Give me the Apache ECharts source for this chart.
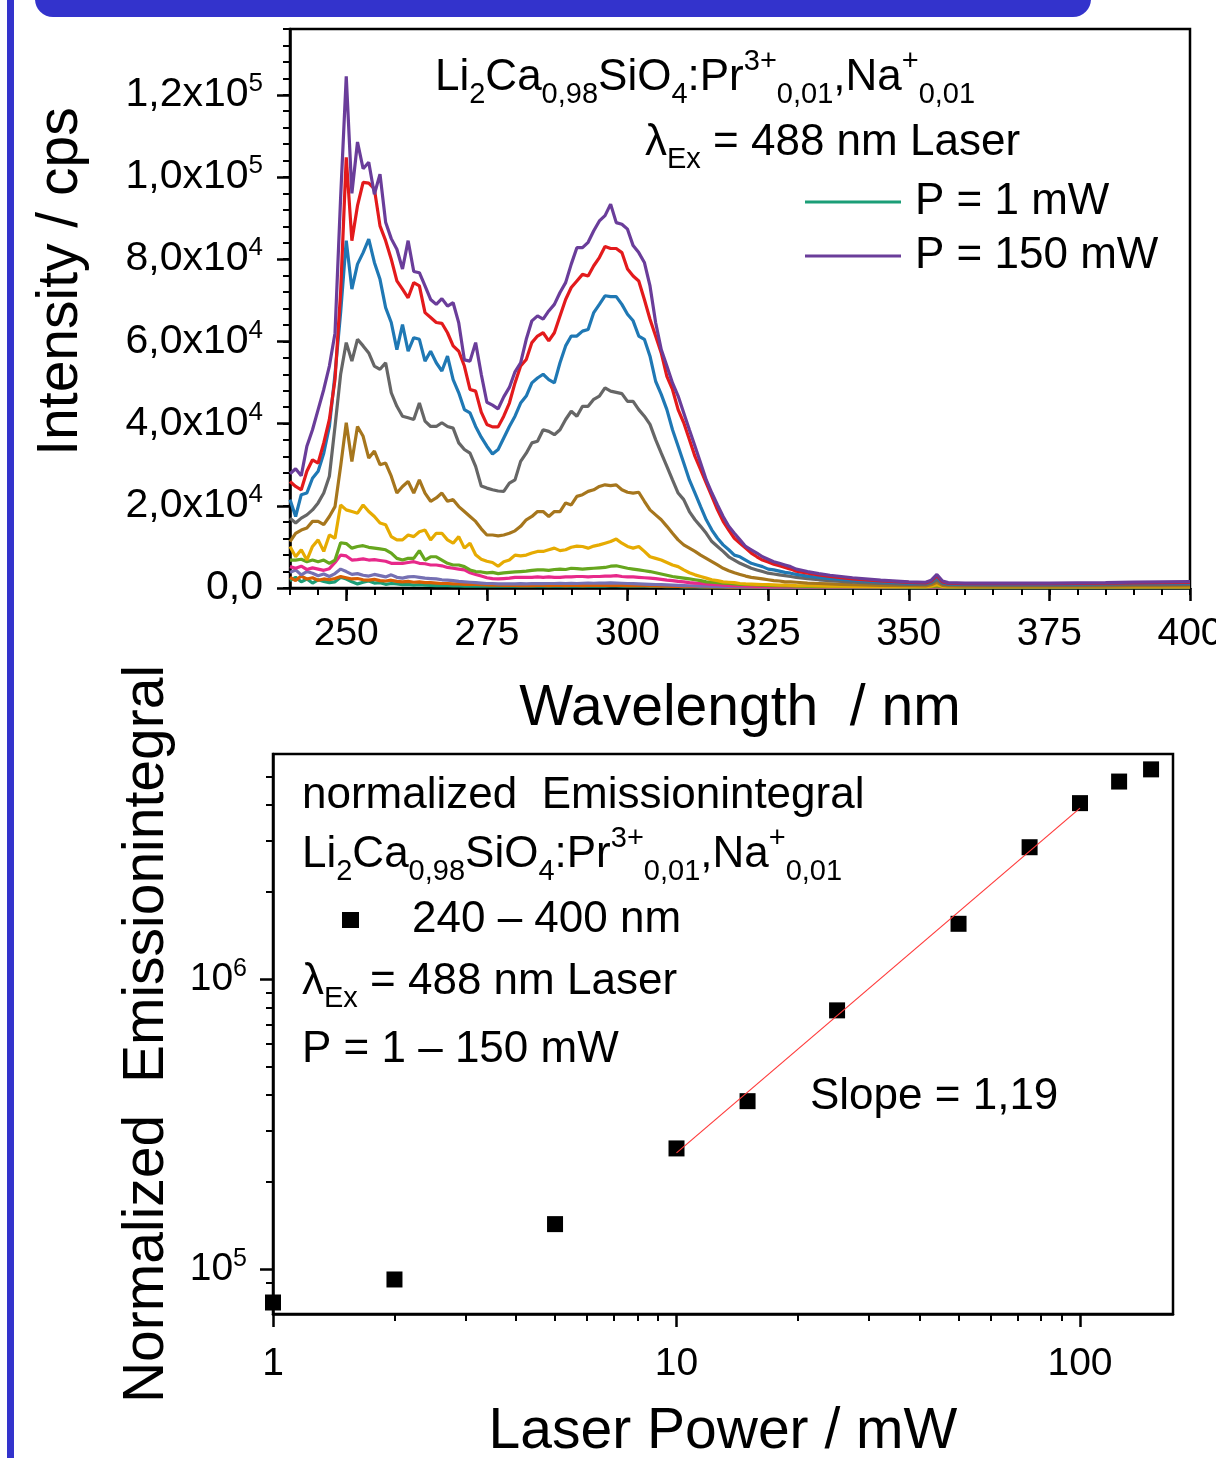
<!DOCTYPE html>
<html>
<head>
<meta charset="utf-8">
<script src="https://cdn.jsdelivr.net/npm/echarts@6/dist/echarts.min.js"></script>
<style>
  html, body { margin: 0; padding: 0; background: #fff; }
  #chart { width: 1216px; height: 1458px; }
</style>
</head>
<body>
<div id="chart"></div>
<script>
// ---- Emission spectra, Li2Ca0.98SiO4:Pr3+,Na+ under 488 nm laser excitation ----
// wavelength grid (nm)
const wavelength = [
  240,241,242,243,244,245,246,247,248,249,
  250,251,252,253,254,255,256,257,258,259,
  260,261,262,263,264,265,266,267,268,269,
  270,271,272,273,274,275,276,277,278,279,
  280,281,282,283,284,285,286,287,288,289,
  290,291,292,293,294,295,296,297,298,299,
  300,301,302,303,304,305,306,307,308,309,
  310,311,312,313,314,315,316,317,318,319,
  320,321,322,323,324,325,326,327,328,329,
  330,
  332,334,336,338,340,345,350,353,354,355,356,357,360,365,370,375,380,385,390,395,400
];

// intensity (cps) for each laser power
const I_1mW = [
  1800,2600,1500,2200,1200,2000,1600,1300,1500,2600,
  2200,1500,1000,1400,1700,1200,1300,900,1100,1000,
  800,900,700,800,700,650,600,600,550,500,
  500,480,460,450,450,440,430,430,420,420,
  420,420,430,430,440,440,450,450,450,460,
  460,460,470,470,480,480,480,490,490,480,
  470,460,450,430,410,390,370,350,330,310,
  290,270,250,230,210,200,190,180,170,160,
  150,140,130,120,120,110,110,100,100,100,
  100,
  100,100,100,100,100,100,100,100,130,200,110,100,100,100,100,100,100,100,100,100,100
];
const I_2mW = [
  2600,1800,2900,2200,2500,1900,2200,2000,2300,2800,
  2500,2200,2300,2000,1900,2100,1800,1700,1900,1600,
  1500,1600,1400,1500,1300,1300,1200,1100,1100,1000,
  1000,900,900,850,800,750,700,700,650,650,
  650,600,650,600,650,650,600,650,650,600,
  650,650,600,650,650,650,700,650,650,650,
  600,600,550,550,500,500,450,450,400,400,
  350,350,300,300,280,260,250,240,230,220,
  210,200,190,180,170,160,160,150,150,150,
  150,
  150,140,140,130,130,120,120,120,150,250,130,120,120,120,120,120,120,120,120,120,120
];
const I_5mW = [
  3800,4400,3200,4000,3600,3000,3400,2800,3500,4600,
  4000,3300,3500,3100,2900,3300,3000,2700,3200,2600,
  2400,2700,2800,2600,2400,2300,2200,2000,1900,1800,
  1600,1500,1400,1300,1200,1100,1100,1000,1000,1000,
  1000,1050,1000,1050,1100,1050,1100,1100,1150,1100,
  1150,1100,1150,1200,1150,1200,1200,1250,1200,1150,
  1100,1050,1000,950,900,850,800,750,700,650,
  600,550,500,450,420,400,380,350,330,300,
  280,260,250,240,230,220,210,200,200,200,
  200,
  200,200,180,180,170,160,150,150,200,300,170,150,150,150,150,150,150,150,150,150,150
];
const I_10mW = [
  5200,4800,5300,4500,4900,4600,4300,4700,6200,8000,
  7800,6800,6900,7100,6800,6900,6700,6500,6000,6000,
  6000,6200,6400,6000,5900,5600,5600,5400,5000,4800,
  4600,4400,3700,3300,2900,2500,2300,2200,2300,2400,
  2600,2600,2600,2600,2700,2600,2700,2600,2600,2700,
  2700,2800,2800,2700,2800,2800,2900,2900,3000,2800,
  2700,2700,2600,2500,2400,2300,2100,1900,1800,1600,
  1500,1300,1200,1100,1000,900,800,700,650,600,
  550,500,450,400,400,350,350,300,300,300,
  300,
  300,250,250,250,200,200,200,200,250,400,200,200,200,150,150,150,150,150,150,150,150
];
const I_15mW = [
  6800,6800,7000,6400,6800,6400,6800,6000,6800,11000,
  10800,9700,10100,10300,9900,9700,9500,9300,8500,7200,
  6800,7200,7200,9100,6800,7600,7600,6800,6000,5600,
  5600,5200,4400,4000,3900,3700,3800,3500,3700,3800,
  3900,4000,4100,4300,4400,4400,4300,4500,4600,4500,
  4800,4700,4600,4700,4800,4900,5000,5300,5400,5100,
  4800,4600,4400,4200,4000,3700,3400,3100,2800,2600,
  2400,2200,2000,1800,1500,1400,1300,1200,1100,1000,
  900,850,800,750,700,650,600,550,500,500,
  450,
  400,350,300,300,250,250,200,200,300,500,250,200,200,200,200,200,200,200,200,200,200
];
const I_25mW = [
  10100,7600,9300,6800,10100,11700,8900,12900,12100,20200,
  19000,18600,18200,20200,18600,17400,15800,15400,12500,11700,
  11700,12900,12500,13700,14100,11700,13300,13300,11700,10900,
  12500,9700,10900,8100,7000,6500,6200,5300,6400,6800,
  8000,7800,8000,8500,8900,8900,9300,9700,9100,9300,
  9900,10200,10100,9700,10200,10500,10900,11300,11900,10900,
  10100,9700,10100,8900,7600,7200,6800,6200,5600,5200,
  4400,3700,3200,2800,2400,2000,1800,1500,1400,1300,
  1100,1000,950,900,850,800,750,700,700,650,
  600,
  550,500,450,450,400,350,300,300,450,800,400,300,300,300,300,300,300,300,300,300,300
];
const I_50mW = [
  11300,13300,14100,14600,16200,16200,15400,17400,19800,29600,
  40200,30800,39300,36900,31600,33300,30000,30400,27200,23100,
  24700,25900,23100,26300,23100,21100,21900,23100,21100,21500,
  19800,18600,17400,16200,14400,12900,12900,12700,12900,13300,
  13900,15000,16600,17400,18600,18600,17400,18600,18600,20700,
  20200,22300,22700,23500,23900,24700,25100,24900,25100,23900,
  23300,23100,23300,21100,19000,17800,16600,15000,13300,11700,
  10500,9700,8900,8000,7200,6400,5600,4800,4200,3700,
  3300,2900,2600,2400,2200,2000,1800,1700,1500,1500,
  1400,
  1200,1100,1000,900,800,650,550,500,800,1400,650,500,450,450,450,450,450,450,500,500,500
];
const I_75mW = [
  17000,15800,17000,17800,19000,20700,23100,27200,39300,52000,
  59700,55200,60500,58900,57200,54000,53200,54800,47500,44200,
  41800,41400,41000,45000,40600,39300,39300,40200,39300,38900,
  35300,33700,32800,29600,24800,24300,23900,23600,23500,25500,
  26300,30800,32800,35300,35700,38500,38100,37300,38500,41000,
  43000,41800,44200,44200,45900,46700,48700,47900,47600,47300,
  45400,45400,43400,41800,39800,36100,32800,29600,26300,23100,
  21500,18600,16600,15000,13300,11300,10100,8900,7600,6800,
  6000,5400,4800,4400,4000,3600,3400,3200,3000,2800,
  2600,
  2300,2000,1800,1600,1400,1100,900,850,1200,2000,1000,800,750,700,700,700,700,750,800,800,850
];
const I_100mW = [
  21500,17400,22700,23100,26700,28400,32800,39300,52000,67000,
  84500,72700,78800,81600,84900,79200,75100,68200,64600,58000,
  64100,57600,60900,60500,55200,57600,54800,52800,56400,50700,
  47500,43400,42600,39300,36700,34500,32600,33700,36500,39300,
  41800,45000,46700,49900,51100,52000,50700,49900,54800,58900,
  61300,61300,62500,62900,67000,69000,71100,70900,70900,69000,
  66600,65000,61300,60500,56400,50300,47100,43400,38500,34500,
  30400,26300,23100,19800,16600,14100,12100,10500,9300,8000,
  7600,6800,6000,5600,5200,4600,4400,4100,3800,3600,
  3300,
  2900,2600,2300,2100,1900,1500,1200,1100,1500,2600,1300,1000,950,950,950,950,1000,1050,1100,1150,1200
];
const I_125mW = [
  25900,24700,23900,28400,31200,30400,35300,41000,50700,72000,
  104800,84500,93000,98700,98500,97100,88100,84500,80000,74700,
  72700,70600,74300,73500,67000,65800,64600,64400,62100,58900,
  57600,54000,48300,47900,42800,39800,39200,39200,41800,45000,
  49900,54000,55600,59700,61300,62100,60100,62100,66200,70200,
  73100,74700,76300,75900,78400,80400,83100,82600,82600,81600,
  77600,75900,74700,70200,65400,61300,57200,51500,48300,43400,
  40200,36100,32000,28800,25500,22300,19000,16200,14100,12100,
  10900,9700,8500,7600,6800,6300,5800,5400,5000,4600,
  4100,
  3600,3200,2800,2500,2200,1700,1350,1250,1700,3000,1500,1150,1050,1050,1050,1050,1100,1150,1250,1300,1350
];
const I_150mW = [
  27800,29000,27300,34500,38500,43400,48300,54000,62000,95000,
  124500,96000,108500,102000,103600,95800,100700,89000,85000,82400,
  77600,84500,77000,76700,73500,70200,69000,70400,68600,69400,
  64500,55500,55200,59700,52000,45200,44500,43600,46500,48800,
  52600,54800,60500,65000,66200,65400,67400,69000,71900,74300,
  78800,82800,82800,84100,86900,89300,90600,93400,88900,88500,
  87300,83300,81600,79200,73500,64600,58000,54000,49900,46700,
  42600,38500,34500,30400,26300,23100,20200,17400,15000,13300,
  11700,10100,9300,8500,7600,7000,6400,6000,5600,5200,
  4600,
  4000,3500,3100,2800,2500,1900,1500,1400,1900,3300,1700,1300,1200,1200,1200,1200,1250,1300,1450,1500,1550
];

const spectraNames = ['P = 1 mW','P = 2 mW','P = 5 mW','P = 10 mW','P = 15 mW','P = 25 mW',
                      'P = 50 mW','P = 75 mW','P = 100 mW','P = 125 mW','P = 150 mW'];
const spectra = [I_1mW, I_2mW, I_5mW, I_10mW, I_15mW, I_25mW, I_50mW, I_75mW, I_100mW, I_125mW, I_150mW];
const spectraColors = ['#1b9e77','#d95f02','#7570b3','#e7298a','#66a61e','#e6ab02',
                       '#a6761d','#666666','#1f78b4','#e31a1c','#6a3d9a'];

// ---- Power dependence of the integrated emission (240 - 400 nm) ----
const laserPower = [1, 2, 5, 10, 15, 25, 50, 75, 100, 125, 150];
const emissionIntegral = [76700, 92100, 143000, 261000, 380000, 782000, 1556000, 2860000, 4060000, 4820000, 5310000];
// linear fit in log-log space between 10 and 100 mW
const fitSlope = 1.19;
const fitRange = [10, 100];
const fitAtStart = 252000;

// ---- tick positions ----
const specXTicks = [250, 275, 300, 325, 350, 375, 400];
const specYTicks = [0, 20000, 40000, 60000, 80000, 100000, 120000];
const powXTicks = [1, 10, 100];
const powXMinor = [2,3,4,5,6,7,8,9,20,30,40,50,60,70,80,90];
const powYTicks = [100000, 1000000];
const powYMinor = [80000,90000,200000,300000,400000,500000,600000,700000,800000,900000,
                   2000000,3000000,4000000,5000000];

const FONT = '"Liberation Sans", Arial, Helvetica, sans-serif';
const BLACK = '#000';

function sciLabel(v) {
  if (v === 0) return '{m|0,0}';
  const e = Math.floor(Math.log10(v) + 1e-9);
  const m = (v / Math.pow(10, e)).toFixed(1).replace('.', ',');
  return '{m|' + m + 'x10}{s|' + e + '}';
}
function powLabel(v) {
  const e = Math.round(Math.log10(v));
  return '{m|10}{s|' + e + '}';
}
function tickRich(fs, sfs) {
  return {
    m: { fontSize: fs, lineHeight: fs + 7, fontFamily: FONT, color: BLACK },
    s: { fontSize: sfs, lineHeight: sfs, verticalAlign: 'top', fontFamily: FONT, color: BLACK }
  };
}

// rich styles for chemical formula / subscripts in annotations
function annoRich(fs, sfs) {
  const lh = Math.round(fs * 1.4);
  return {
    n: { fontSize: fs, lineHeight: lh, fontFamily: FONT, fill: BLACK, color: BLACK },
    b: { fontSize: sfs, lineHeight: sfs, verticalAlign: 'bottom', fontFamily: FONT, fill: BLACK, color: BLACK },
    p: { fontSize: sfs, lineHeight: sfs, verticalAlign: 'top', fontFamily: FONT, fill: BLACK, color: BLACK }
  };
}
function annoText(x, y, text, fs, sfs) {
  return {
    type: 'text', x: x, y: y, z: 50,
    style: {
      text: text, rich: annoRich(fs || 44, sfs || 29),
      fill: BLACK, font: (fs || 44) + 'px ' + FONT,
      align: 'left', verticalAlign: 'middle',
      textAlign: 'left', textVerticalAlign: 'middle'
    }
  };
}
const formula = '{n|Li}{b|2}{n|Ca}{b|0,98}{n|SiO}{b|4}{n|:Pr}{p|3+}{b|0,01}{n|,Na}{p|+}{b|0,01}';
const excitation = '{n|\u03bb}{b|Ex}{n| = 488 nm Laser}';

const axisLineStyle = { color: BLACK, width: 2.5 };
const majorTick = { length: 13, lineStyle: { color: BLACK, width: 2.5 } };
const minorTick = { length: 7, lineStyle: { color: BLACK, width: 2 } };
const titleStyle = { fontSize: 57, fontFamily: FONT, color: BLACK };

const series = spectra.map((vals, i) => ({
  name: spectraNames[i],
  type: 'line',
  xAxisIndex: 0, yAxisIndex: 0,
  symbol: 'none',
  lineStyle: { width: 3.2, color: spectraColors[i] },
  itemStyle: { color: spectraColors[i] },
  data: wavelength.map((w, k) => [w, vals[k]]),
  z: 2 + i * 0.01
}));

series.push({
  name: '240 \u2013 400 nm',
  type: 'scatter',
  xAxisIndex: 2, yAxisIndex: 2,
  symbol: 'rect', symbolSize: 16,
  itemStyle: { color: BLACK, opacity: 1 },
  data: laserPower.map((p, k) => [p, emissionIntegral[k]]),
  z: 3
});
series.push({
  name: 'fit',
  type: 'line',
  xAxisIndex: 2, yAxisIndex: 2,
  symbol: 'none',
  lineStyle: { width: 1.2, color: '#ff3a3a' },
  data: fitRange.map(p => [p, fitAtStart * Math.pow(p / fitRange[0], fitSlope)]),
  z: 4
});

const option = {
  animation: false,
  backgroundColor: '#fff',
  textStyle: { fontFamily: FONT },
  grid: [
    { left: 290, top: 29, width: 900, height: 559, show: true, borderColor: BLACK, borderWidth: 2.5,
      backgroundColor: 'transparent', containLabel: false, outerBoundsMode: 'none' },
    { left: 273, top: 754, width: 900, height: 560, show: true, borderColor: BLACK, borderWidth: 2.5,
      backgroundColor: 'transparent', containLabel: false, outerBoundsMode: 'none' }
  ],
  xAxis: [
    {
      type: 'value', gridIndex: 0, min: 240, max: 400, position: 'bottom',
      axisLine: { show: true, lineStyle: axisLineStyle },
      axisTick: Object.assign({ show: true, customValues: specXTicks }, majorTick),
      axisLabel: { show: true, customValues: specXTicks, margin: 27, fontSize: 39, fontFamily: FONT, color: BLACK },
      splitLine: { show: false },
      name: 'Wavelength  / nm', nameLocation: 'middle', nameGap: 93, nameTextStyle: titleStyle
    },
    {
      type: 'value', gridIndex: 0, min: 240, max: 400, interval: 5, position: 'bottom',
      axisLine: { show: false },
      axisTick: Object.assign({ show: true }, minorTick),
      axisLabel: { show: false }, splitLine: { show: false }
    },
    {
      type: 'log', logBase: 10, gridIndex: 1, min: 1, max: 170, position: 'bottom',
      axisLine: { show: true, lineStyle: axisLineStyle },
      axisTick: Object.assign({ show: true, customValues: powXTicks }, majorTick),
      axisLabel: { show: true, customValues: powXTicks, margin: 31, fontSize: 39, fontFamily: FONT, color: BLACK,
                   formatter: v => String(Math.round(v)) },
      splitLine: { show: false }, minorTick: { show: false },
      name: 'Laser Power / mW', nameLocation: 'middle', nameGap: 90, nameTextStyle: titleStyle
    },
    {
      type: 'log', logBase: 10, gridIndex: 1, min: 1, max: 170, position: 'bottom',
      axisLine: { show: false },
      axisTick: Object.assign({ show: true, customValues: powXMinor }, minorTick),
      axisLabel: { show: false }, splitLine: { show: false }
    }
  ],
  yAxis: [
    {
      type: 'value', gridIndex: 0, min: 0, max: 136000, position: 'left',
      axisLine: { show: true, lineStyle: axisLineStyle },
      axisTick: Object.assign({ show: true, customValues: specYTicks }, majorTick),
      axisLabel: { show: true, customValues: specYTicks, margin: 27, formatter: sciLabel, rich: tickRich(41, 26), color: BLACK },
      splitLine: { show: false },
      name: 'Intensity / cps', nameLocation: 'middle', nameGap: 200,
      nameTextStyle: Object.assign({ padding: [0, 0, 0, 54] }, titleStyle)
    },
    {
      type: 'value', gridIndex: 0, min: 0, max: 136000, interval: 4000, position: 'left',
      axisLine: { show: false },
      axisTick: Object.assign({ show: true }, minorTick),
      axisLabel: { show: false }, splitLine: { show: false }
    },
    {
      type: 'log', logBase: 10, gridIndex: 1, min: 70000, max: 6000000, position: 'left',
      axisLine: { show: true, lineStyle: axisLineStyle },
      axisTick: Object.assign({ show: true, customValues: powYTicks }, majorTick),
      axisLabel: { show: true, customValues: powYTicks, margin: 26, formatter: powLabel, rich: tickRich(39, 25), color: BLACK },
      splitLine: { show: false }, minorTick: { show: false },
      name: 'Normalized  Emissionintegral', nameLocation: 'middle', nameGap: 97, nameTextStyle: titleStyle
    },
    {
      type: 'log', logBase: 10, gridIndex: 1, min: 70000, max: 6000000, position: 'left',
      axisLine: { show: false },
      axisTick: Object.assign({ show: true, customValues: powYMinor }, minorTick),
      axisLabel: { show: false }, splitLine: { show: false }
    }
  ],
  legend: [
    {
      data: ['P = 1 mW', 'P = 150 mW'],
      left: 800, top: 171, orient: 'vertical',
      icon: 'rect', itemWidth: 96, itemHeight: 3, itemGap: 2,
      selectedMode: false,
      textStyle: { fontSize: 44, fontFamily: FONT, color: BLACK, lineHeight: 52, padding: [0, 0, 0, 9] }
    },
    {
      data: ['240 \u2013 400 nm'],
      left: 337, top: 889, orient: 'vertical',
      itemWidth: 17, itemHeight: 16, icon: 'rect',
      itemStyle: { opacity: 1 },
      selectedMode: false,
      textStyle: { fontSize: 44, fontFamily: FONT, color: BLACK, lineHeight: 52, padding: [0, 0, 0, 48] }
    }
  ],
  graphic: [
    { type: 'rect', shape: { x: 35, y: -30, width: 1056, height: 47, r: 18 }, style: { fill: '#3333cc' }, z: 60 },
    { type: 'rect', shape: { x: 7, y: 0, width: 7, height: 1458 }, style: { fill: '#3333cc' }, z: 60 },
    annoText(435, 78, formula),
    annoText(645, 143, excitation),
    annoText(302, 796, '{n|normalized  Emissionintegral}'),
    annoText(302, 855, formula),
    annoText(302, 982, excitation),
    annoText(302, 1050, '{n|P = 1 \u2013 150 mW}'),
    annoText(810, 1097, '{n|Slope = 1,19}')
  ],
  series: series
};

const chart = echarts.init(document.getElementById('chart'), null, { renderer: 'canvas' });
chart.setOption(option);
</script>
</body>
</html>
